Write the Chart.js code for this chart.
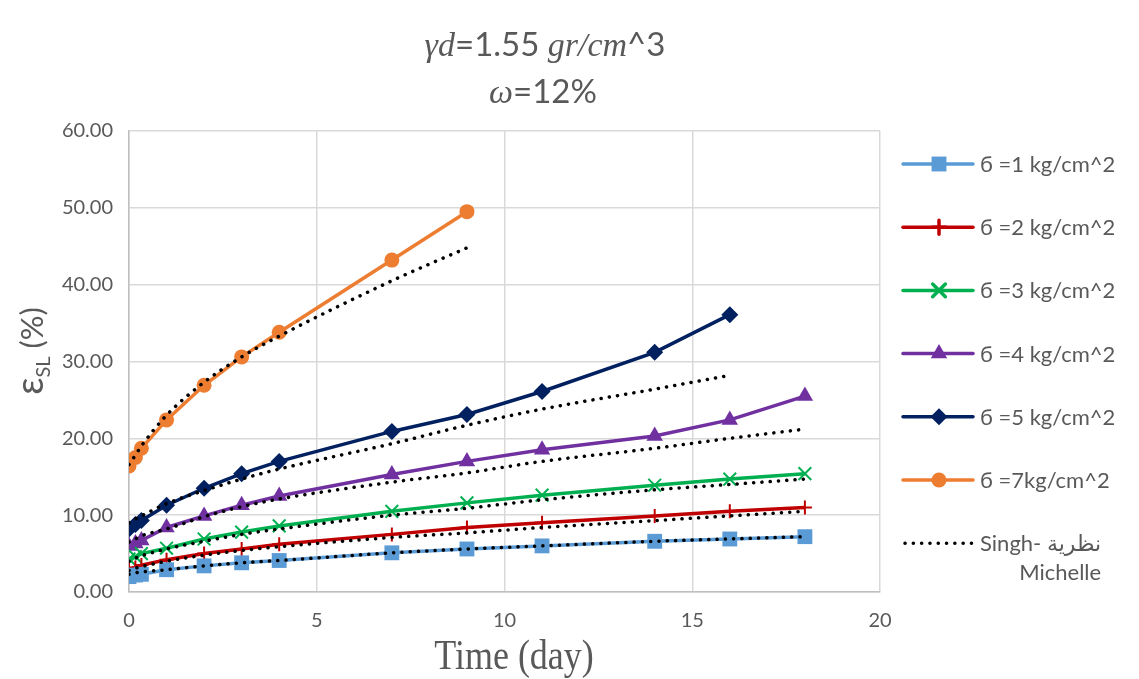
<!DOCTYPE html>
<html>
<head>
<meta charset="utf-8">
<script src="https://cdn.jsdelivr.net/npm/chart.js@4.4.1/dist/chart.umd.min.js"></script>
<style>
  html, body { margin: 0; padding: 0; background: #fff; }
</style>
</head>
<body>
<canvas id="chart" width="1139" height="679"></canvas>
<script>
// time in days (measurement points)
const days = [0, 0.17, 0.33, 1, 2, 3, 4, 7, 9, 11, 14, 16, 18];

// measured strain (%) per applied stress
const sigma1 = [2.0, 2.2, 2.3, 2.9, 3.4, 3.8, 4.1, 5.1, 5.6, 6.0, 6.6, 6.9, 7.2];
const sigma2 = [3.0, 3.2, 3.5, 4.2, 5.0, 5.6, 6.2, 7.5, 8.4, 9.0, 9.9, 10.5, 11.0];
const sigma3 = [4.3, 4.6, 5.0, 5.7, 6.9, 7.8, 8.6, 10.5, 11.6, 12.6, 13.9, 14.7, 15.4];
const sigma4 = [6.0, 6.3, 6.7, 8.4, 9.9, 11.3, 12.5, 15.3, 17.0, 18.5, 20.3, 22.4, 25.5];
const sigma5 = [8.2, 8.8, 9.3, 11.3, 13.5, 15.4, 17.0, 20.9, 23.1, 26.1, 31.2, 36.1];
const sigma7 = [16.4, 17.5, 18.7, 22.4, 26.9, 30.6, 33.8, 43.2, 49.5];

// Singh-Mitchell theory curves
const theory1 = [2.3, 2.5, 2.6, 2.9, 3.4, 3.8, 4.1, 5.1, 5.6, 6.0, 6.6, 6.9, 7.2];
const theory2 = [2.8, 3.1, 3.3, 4.0, 4.8, 5.4, 5.9, 7.1, 7.7, 8.4, 9.3, 9.9, 10.5];
const theory3 = [4.0, 4.4, 4.7, 5.6, 6.6, 7.5, 8.2, 10.0, 10.9, 12.0, 13.3, 14.0, 14.7];
const theory4 = [6.5, 6.9, 7.3, 8.2, 9.8, 11.1, 12.1, 14.3, 15.5, 17.0, 18.7, 20.0, 21.2];
const theory5 = [9.0, 9.5, 9.9, 11.5, 13.2, 14.7, 16.0, 19.3, 21.7, 23.8, 26.4, 28.2];
const theory7 = [16.6, 17.8, 19.0, 23.0, 27.3, 30.6, 33.3, 40.5, 44.8];

const seriesLabels = [
    'б =1 kg/cm^2', 'б =2 kg/cm^2', 'б =3 kg/cm^2',
    'б =4 kg/cm^2', 'б =5 kg/cm^2', 'б =7kg/cm^2'
];
const theoryLabel = ['Singh- نظرية', 'Michelle'];
const xTitle = 'Time (day)';
const xTicks = [0, 5, 10, 15, 20];
const yTicks = [0, 10, 20, 30, 40, 50, 60];

const TEXT = '#595959';
const SANS = 'Lato, "Noto Sans", "DejaVu Sans", sans-serif';
const SERIF = '"Liberation Serif", "DejaVu Serif", serif';

const toPoints = vals => vals.map((v, i) => ({ x: days[i], y: v }));

const styles = [
    { color: '#5B9BD5', pointStyle: 'rect', radius: 10.5, fill: true },
    { color: '#C00000', pointStyle: 'cross', radius: 7, fill: false },
    { color: '#00B050', pointStyle: 'crossRot', radius: 9, fill: false },
    { color: '#7030A0', pointStyle: 'triangle', radius: 9.5, fill: true },
    { color: '#002060', pointStyle: 'rectRot', radius: 8.5, fill: true },
    { color: '#ED7D31', pointStyle: 'circle', radius: 7.5, fill: true }
];

const measured = [sigma1, sigma2, sigma3, sigma4, sigma5, sigma7];
const theory = [theory1, theory2, theory3, theory4, theory5, theory7];

const datasets = [];
measured.forEach((vals, i) => {
    const s = styles[i];
    datasets.push({
        label: seriesLabels[i],
        data: toPoints(vals),
        borderColor: s.color,
        backgroundColor: s.color,
        borderWidth: 3.5,
        pointStyle: s.pointStyle,
        pointRadius: s.radius,
        pointBackgroundColor: s.color,
        pointBorderColor: s.color,
        pointBorderWidth: s.fill ? 0 : 2,
        tension: 0,
        order: 2
    });
});
theory.forEach((vals, i) => {
    datasets.push({
        label: 'theory ' + (i + 1),
        data: toPoints(vals),
        borderColor: '#000000',
        borderWidth: 3.5,
        borderDash: [0.1, 8.2],
        borderCapStyle: 'round',
        pointRadius: 0,
        cubicInterpolationMode: 'monotone',
        order: 1
    });
});

// draws the title runs, axis titles and legend (Excel-like layout)
const textPlugin = {
    id: 'texts',
    afterDraw(chart) {
        const ctx = chart.ctx;
        ctx.save();
        ctx.fillStyle = TEXT;
        ctx.textBaseline = 'alphabetic';

        const drawRuns = (runs, cx, y) => {
            const widths = runs.map(r => { ctx.font = r.font; return ctx.measureText(r.text).width; });
            let x = cx - widths.reduce((a, b) => a + b, 0) / 2;
            ctx.textAlign = 'left';
            runs.forEach((r, i) => {
                ctx.font = r.font;
                ctx.fillText(r.text, x, y + (r.dy || 0));
                x += widths[i];
            });
        };

        // title
        const it = 'italic 34px ' + SERIF;
        const rg = '33px ' + SANS;
        drawRuns([
            { text: 'γd', font: it }, { text: '=1.55 ', font: rg },
            { text: 'gr/cm', font: it }, { text: '^3', font: rg }
        ], 545, 56);
        drawRuns([
            { text: 'ω', font: it }, { text: '=12%', font: rg }
        ], 543, 103);

        // y axis title, rotated
        ctx.save();
        ctx.translate(43, 351);
        ctx.rotate(-Math.PI / 2);
        drawRuns([
            { text: 'ε', font: '38px ' + SANS },
            { text: 'SL', font: '20px ' + SANS, dy: 7 },
            { text: ' (%)', font: '31px ' + SANS }
        ], 0, 0);
        ctx.restore();

        // x axis title
        ctx.save();
        ctx.translate(514, 669);
        ctx.scale(1, 1.2);
        ctx.font = '36px ' + SERIF;
        ctx.textAlign = 'center';
        ctx.fillText(xTitle, 0, 0);
        ctx.restore();

        // legend
        const lx0 = 903, lx1 = 973, mx = 939, tx = 980;
        styles.forEach((s, i) => {
            const y = 164 + i * 63.2;
            ctx.strokeStyle = s.color;
            ctx.lineWidth = 3.5;
            ctx.lineCap = 'round';
            ctx.beginPath();
            ctx.moveTo(lx0, y);
            ctx.lineTo(lx1, y);
            ctx.stroke();
            ctx.fillStyle = s.color;
            Chart.helpers.drawPoint(ctx, {
                pointStyle: s.pointStyle, radius: s.radius, rotation: 0,
                borderWidth: s.fill ? 0 : 2
            }, mx, y);
            ctx.fillStyle = TEXT;
            ctx.font = '22px ' + SANS;
            ctx.textAlign = 'left';
            ctx.textBaseline = 'middle';
            ctx.fillText(seriesLabels[i], tx, y + 1);
        });
        const ty = 164 + 6 * 63.2;
        ctx.strokeStyle = '#000';
        ctx.lineWidth = 3.5;
        ctx.lineCap = 'round';
        ctx.setLineDash([0.1, 8.2]);
        ctx.beginPath();
        ctx.moveTo(lx0 + 2, ty);
        ctx.lineTo(lx1, ty);
        ctx.stroke();
        ctx.setLineDash([]);
        ctx.fillStyle = TEXT;
        ctx.font = '22px ' + SANS;
        ctx.textBaseline = 'middle';
        ctx.textAlign = 'left';
        const w0 = ctx.measureText(theoryLabel[0]).width;
        ctx.fillText(theoryLabel[0], tx, ty + 1);
        ctx.textAlign = 'right';
        ctx.fillText(theoryLabel[1], tx + w0, ty + 30);
        ctx.restore();
    }
};

const ctx = document.getElementById('chart').getContext('2d');
const chart = new Chart(ctx, {
    type: 'line',
    data: { datasets },
    options: {
        responsive: false,
        animation: false,
        layout: { padding: { top: 131, right: 259, bottom: 0, left: 0 } },
        plugins: {
            legend: { display: false },
            title: { display: false },
            tooltip: { enabled: false }
        },
        scales: {
            x: {
                type: 'linear',
                min: 0,
                max: 20,
                afterBuildTicks: s => { s.ticks = xTicks.map(v => ({ value: v })); },
                afterFit: s => { s.height = 87; },
                grid: { color: '#d9d9d9', lineWidth: 1.5, drawTicks: false },
                border: { color: '#bfbfbf', width: 1.5 },
                ticks: { color: TEXT, font: { family: SANS, size: 20 }, padding: 17 }
            },
            y: {
                min: 0,
                max: 60,
                afterBuildTicks: s => { s.ticks = yTicks.map(v => ({ value: v })); },
                afterFit: s => { s.width = 129; },
                grid: { color: '#d9d9d9', lineWidth: 1.5, drawTicks: false },
                border: { color: '#bfbfbf', width: 1.5 },
                ticks: {
                    color: TEXT,
                    font: { family: SANS, size: 20 },
                    padding: 16,
                    callback: v => v.toFixed(2)
                }
            }
        }
    },
    plugins: [textPlugin]
});
</script>
</body>
</html>
